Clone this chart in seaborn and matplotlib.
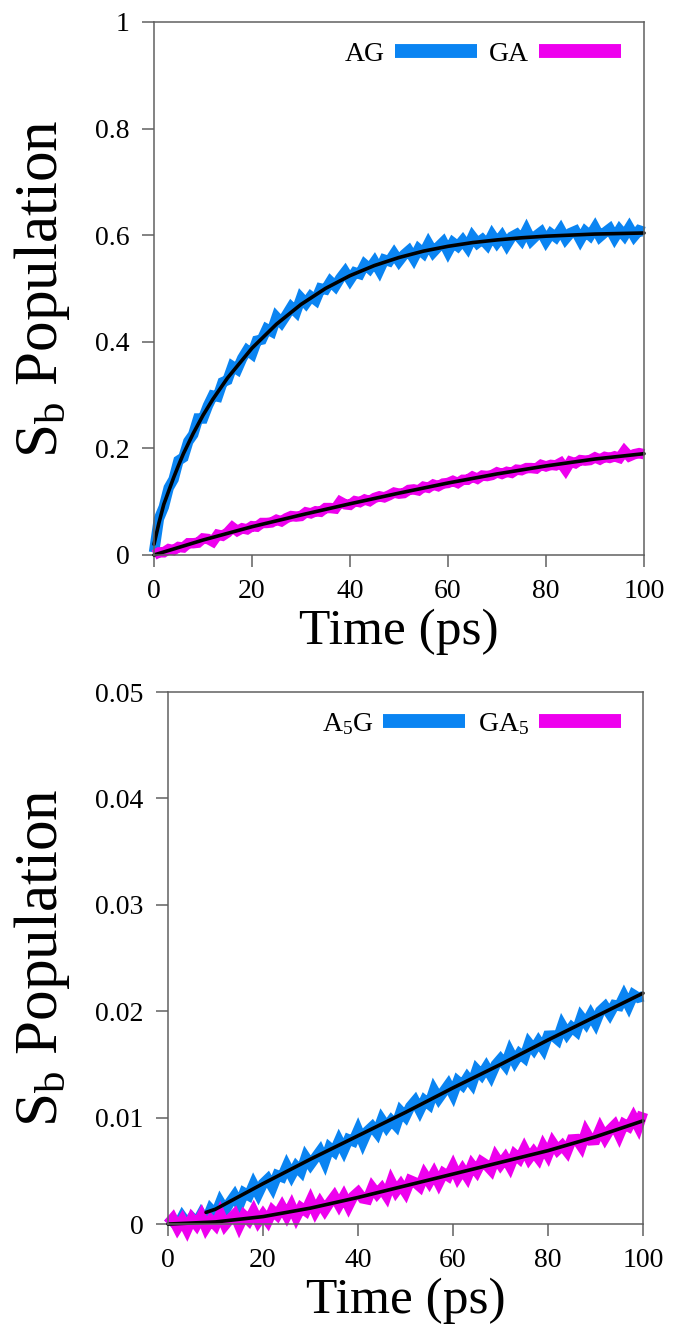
import numpy as np
import matplotlib
matplotlib.use('Agg')
import matplotlib.pyplot as plt
from matplotlib.lines import Line2D
import seaborn as sns

# time axis (ps), sampled every 1 ps
time_ps = np.arange(0, 101, 1)

# ---- top panel: AG / GA ----
ag_pop = [
    0.005, 0.068, 0.090, 0.126, 0.142, 0.177, 0.183, 0.213, 0.226, 0.256,
    0.256, 0.280, 0.299, 0.297, 0.324, 0.328, 0.354, 0.348, 0.369, 0.384,
    0.377, 0.402, 0.404, 0.424, 0.419, 0.446, 0.436, 0.450, 0.465, 0.456,
    0.482, 0.472, 0.485, 0.478, 0.500, 0.498, 0.513, 0.504, 0.519, 0.531,
    0.516, 0.530, 0.527, 0.545, 0.537, 0.550, 0.534, 0.554, 0.551, 0.565,
    0.551, 0.563, 0.571, 0.556, 0.574, 0.566, 0.584, 0.568, 0.578, 0.587,
    0.569, 0.586, 0.579, 0.590, 0.577, 0.597, 0.585, 0.592, 0.582, 0.600,
    0.586, 0.598, 0.582, 0.597, 0.602, 0.591, 0.609, 0.590, 0.599, 0.606,
    0.589, 0.603, 0.596, 0.610, 0.593, 0.604, 0.608, 0.591, 0.607, 0.599,
    0.614, 0.597, 0.605, 0.612, 0.595, 0.610, 0.599, 0.614, 0.598, 0.609,
    0.606]
ga_pop = [
    0.000, 0.005, 0.005, 0.011, 0.009, 0.015, 0.014, 0.022, 0.022, 0.023,
    0.031, 0.030, 0.025, 0.038, 0.036, 0.042, 0.052, 0.045, 0.050, 0.048,
    0.054, 0.053, 0.060, 0.060, 0.061, 0.066, 0.063, 0.069, 0.073, 0.072,
    0.073, 0.080, 0.078, 0.082, 0.081, 0.088, 0.088, 0.087, 0.100, 0.095,
    0.094, 0.101, 0.099, 0.104, 0.101, 0.107, 0.110, 0.108, 0.112, 0.117,
    0.115, 0.116, 0.122, 0.123, 0.121, 0.128, 0.126, 0.132, 0.129, 0.134,
    0.135, 0.139, 0.135, 0.141, 0.141, 0.147, 0.143, 0.149, 0.148, 0.150,
    0.155, 0.152, 0.156, 0.154, 0.160, 0.159, 0.163, 0.163, 0.162, 0.169,
    0.166, 0.169, 0.168, 0.173, 0.160, 0.175, 0.172, 0.178, 0.177, 0.178,
    0.183, 0.179, 0.184, 0.182, 0.185, 0.182, 0.195, 0.185, 0.189, 0.191,
    0.189]
ag_fit_t = [0, 1, 2, 3, 4, 5, 6, 8, 10, 12, 15, 20, 25, 30, 35, 40, 45, 50,
            55, 60, 65, 70, 75, 80, 85, 90, 95, 100]
ag_fit = [0.02, 0.06, 0.095, 0.12, 0.145, 0.168, 0.19, 0.228, 0.262, 0.292,
          0.332, 0.388, 0.433, 0.47, 0.5, 0.524, 0.543, 0.558, 0.57, 0.579,
          0.586, 0.591, 0.595, 0.598, 0.6, 0.602, 0.603, 0.604]
ga_fit_t = [0, 10, 20, 30, 40, 50, 60, 70, 80, 90, 100]
ga_fit = [0, 0.028, 0.053, 0.075, 0.096, 0.116, 0.135, 0.152, 0.167, 0.18, 0.19]

# ---- bottom panel: A5G / GA5 ----
a5g_pop = [
    0.0, 0.00046, -0.00018, 0.00068, 0.00004, 0.0006, 0.00012, 0.00094, 0.00026, 0.00138,
    0.0009, 0.00204, 0.00128, 0.00202, 0.00266, 0.0018, 0.00294, 0.00268, 0.00372, 0.00286,
    0.0038, 0.00423, 0.00346, 0.00459, 0.00442, 0.00545, 0.00458, 0.00541, 0.00494, 0.00627,
    0.0056, 0.00622, 0.00684, 0.00586, 0.00718, 0.0068, 0.00782, 0.00694, 0.00796, 0.00778,
    0.0088, 0.00772, 0.00874, 0.00916, 0.00858, 0.0098, 0.00912, 0.00974, 0.00926, 0.01058,
    0.0101, 0.01103, 0.01156, 0.01069, 0.01162, 0.01125, 0.01258, 0.01181, 0.01244, 0.01307,
    0.0122, 0.01342, 0.01304, 0.01376, 0.01318, 0.0145, 0.01402, 0.01474, 0.01396, 0.01498,
    0.0155, 0.01493, 0.01616, 0.01529, 0.01602, 0.01565, 0.01698, 0.01641, 0.01714, 0.01647,
    0.0177, 0.01772, 0.01734, 0.01866, 0.01788, 0.0185, 0.01812, 0.01944, 0.01886, 0.01968,
    0.0189, 0.02002, 0.02044, 0.01976, 0.02058, 0.0205, 0.02142, 0.02054, 0.02156, 0.02128,
    0.0214]
ga5_pop = [
    0.0, 0.00052, -0.00036, 0.00036, -0.00052, 0.0005, -0.00008, 0.00074, -0.00034, 0.00038,
    -0.0001, 0.00095, -0.0001, 0.00045, 0.0009, -0.00015, 0.0008, 0.00035, 0.0012, 0.00025,
    0.0009, 0.00028, 0.00126, 0.00084, 0.00162, 0.0008, 0.00168, 0.00066, 0.00154, 0.00122,
    0.0022, 0.0012, 0.002, 0.0013, 0.002, 0.0026, 0.0018, 0.0026, 0.0017, 0.0026,
    0.003, 0.00241, 0.00232, 0.00343, 0.00284, 0.00335, 0.00266, 0.00397, 0.00308, 0.00369,
    0.003, 0.00411, 0.00392, 0.00353, 0.00464, 0.00395, 0.00476, 0.00387, 0.00478, 0.00449,
    0.0054, 0.00441, 0.00512, 0.00443, 0.00554, 0.00495, 0.00586, 0.00557, 0.00508, 0.00629,
    0.0056, 0.00621, 0.00542, 0.00653, 0.00614, 0.00705, 0.00616, 0.00677, 0.00618, 0.00729,
    0.0065, 0.00763, 0.00696, 0.00739, 0.00682, 0.00795, 0.00798, 0.00731, 0.00864, 0.00787,
    0.0079, 0.00895, 0.0081, 0.00885, 0.0093, 0.00835, 0.0094, 0.00915, 0.01, 0.00915,
    0.0105]
a5g_fit_t = [8, 10, 20, 30, 40, 50, 60, 70, 80, 90, 100]
a5g_fit = [0.0011, 0.0014, 0.0038, 0.0061, 0.0083, 0.0105, 0.0128, 0.015,
           0.0173, 0.0195, 0.0217]
ga5_fit_t = [0, 10, 20, 30, 40, 50, 60, 70, 80, 90, 100]
ga5_fit = [0, 0.0002, 0.0007, 0.0015, 0.0025, 0.0036, 0.0047, 0.0058, 0.0069,
           0.0082, 0.0097]

x_ticks = [0, 20, 40, 60, 80, 100]
top_yticks = [0, 0.2, 0.4, 0.6, 0.8, 1]
top_yticklabels = ['0', '0.2', '0.4', '0.6', '0.8', '1']
bot_yticks = [0, 0.01, 0.02, 0.03, 0.04, 0.05]
bot_yticklabels = ['0', '0.01', '0.02', '0.03', '0.04', '0.05']
top_labels = ['AG', 'GA']
bot_labels = ['A$_\\mathregular{5}$G', 'GA$_\\mathregular{5}$']

BLUE = '#0A84F2'
MAGENTA = '#EE00EE'
SPINE = '#606060'

sns.set_style('ticks')
plt.rcParams['font.family'] = ['Liberation Serif', 'DejaVu Serif']
plt.rcParams['mathtext.fontset'] = 'custom'
plt.rcParams['mathtext.rm'] = 'Liberation Serif'
plt.rcParams['mathtext.it'] = 'Liberation Serif:italic'
plt.rcParams['text.color'] = 'black'
plt.rcParams['axes.labelcolor'] = 'black'

fig = plt.figure(figsize=(6.74, 13.35), dpi=100)
ax1 = fig.add_axes([0.2285, 0.5843, 0.7270, 0.3993])
ax2 = fig.add_axes([0.2493, 0.0831, 0.7047, 0.3985])


def draw_panel(ax, s1, s2, f1t, f1, f2t, f2, labels, yticks, yticklabels, ylim, lab_x):
    sns.lineplot(x=time_ps, y=s1, ax=ax, color=BLUE, linewidth=7.5,
                 solid_joinstyle='miter', solid_capstyle='butt')
    sns.lineplot(x=time_ps, y=s2, ax=ax, color=MAGENTA, linewidth=7.5,
                 solid_joinstyle='miter', solid_capstyle='butt')
    sns.lineplot(x=f1t, y=f1, ax=ax, color='black', linewidth=2.6)
    sns.lineplot(x=f2t, y=f2, ax=ax, color='black', linewidth=2.6)
    for ln in ax.get_lines():
        ln.set_clip_on(False)
    ax.set_xlim(0, 100)
    ax.set_ylim(*ylim)
    ax.set_xticks(x_ticks)
    ax.set_xticklabels([str(v) for v in x_ticks])
    ax.set_yticks(yticks)
    ax.set_yticklabels(yticklabels)
    ax.tick_params(direction='out', length=8.5, width=1.1, color=SPINE,
                   labelsize=20, pad=9, labelcolor='black')
    for sp in ax.spines.values():
        sp.set_visible(True)
        sp.set_color(SPINE)
        sp.set_linewidth(1.1)
    ax.set_xlabel('Time (ps)', fontsize=37, labelpad=3)
    ax.set_ylabel('S$_\\mathregular{b}$ Population', fontsize=44)
    ax.yaxis.set_label_coords(lab_x, 0.5)
    handles = [Line2D([], [], color=BLUE, linewidth=10, solid_capstyle='butt'),
               Line2D([], [], color=MAGENTA, linewidth=10, solid_capstyle='butt')]
    ax.legend(handles, labels, loc='center right', bbox_to_anchor=(0.953, 0.94),
              ncol=2, frameon=False, markerfirst=False, fontsize=20,
              handlelength=2.95, handletextpad=0.35, columnspacing=0.45,
              borderpad=0, borderaxespad=0)


draw_panel(ax1, ag_pop, ga_pop, ag_fit_t, ag_fit, ga_fit_t, ga_fit,
           top_labels, top_yticks, top_yticklabels, (0, 1), -0.168)
draw_panel(ax2, a5g_pop, ga5_pop, a5g_fit_t, a5g_fit, ga5_fit_t, ga5_fit,
           bot_labels, bot_yticks, bot_yticklabels, (0, 0.05), -0.203)

fig.savefig('out.png', dpi=100)
